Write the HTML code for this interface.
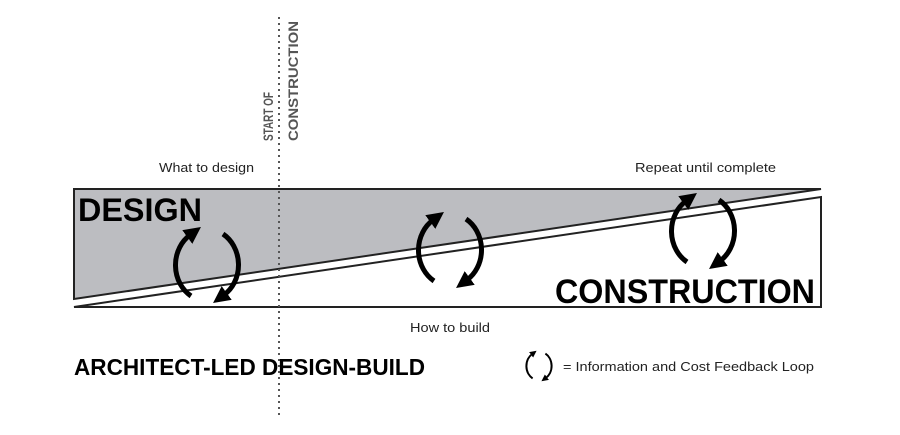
<!DOCTYPE html>
<html><head><meta charset="utf-8"><style>
html,body{margin:0;padding:0;background:#fff;}
svg{display:block;}
text{font-family:"Liberation Sans",sans-serif;}
</style></head><body>
<svg width="900" height="435" viewBox="0 0 900 435" xmlns="http://www.w3.org/2000/svg">
<defs>
<marker id="ah" viewBox="0 0 10 10" refX="2" refY="5" markerWidth="3.4" markerHeight="3.4" orient="auto" markerUnits="strokeWidth">
<path d="M0,0 L10,5 L0,10 z" fill="#000"/>
</marker>
<g id="loop">
<path d="M -16 31 A 32 36 0 0 1 -17 -30" fill="none" stroke="#000" stroke-width="5" marker-end="url(#ah)"/>
<path d="M 16 -31 A 32 36 0 0 1 17 30" fill="none" stroke="#000" stroke-width="5" marker-end="url(#ah)"/>
</g>
</defs>
<polygon points="74,189 821,189 74,299" fill="#bcbdc1" stroke="#222" stroke-width="2"/>
<polygon points="74,307 821,197 821,307" fill="#fff" stroke="#222" stroke-width="2"/>
<line x1="279" y1="17" x2="279" y2="416" stroke="#555" stroke-width="2" stroke-dasharray="2,4"/>
<text transform="translate(273,141) rotate(-90)" font-size="14" font-weight="bold" fill="#555" textLength="49" lengthAdjust="spacingAndGlyphs">START OF</text>
<text transform="translate(298,141) rotate(-90)" font-size="14" font-weight="bold" fill="#555" textLength="120" lengthAdjust="spacingAndGlyphs">CONSTRUCTION</text>
<text x="159" y="172" font-size="13" fill="#222" textLength="95" lengthAdjust="spacingAndGlyphs">What to design</text>
<text x="635" y="172" font-size="13" fill="#222" textLength="141" lengthAdjust="spacingAndGlyphs">Repeat until complete</text>
<text x="410" y="332" font-size="13" fill="#222" textLength="80" lengthAdjust="spacingAndGlyphs">How to build</text>
<text x="78" y="221" font-size="32" font-weight="bold" fill="#000" textLength="124" lengthAdjust="spacingAndGlyphs">DESIGN</text>
<text x="555" y="303" font-size="34" font-weight="bold" fill="#000" textLength="260" lengthAdjust="spacingAndGlyphs">CONSTRUCTION</text>
<text x="74" y="375" font-size="23" font-weight="bold" fill="#000" textLength="351" lengthAdjust="spacingAndGlyphs">ARCHITECT-LED DESIGN-BUILD</text>
<use href="#loop" transform="translate(207,265)"/>
<use href="#loop" transform="translate(450,250)"/>
<use href="#loop" transform="translate(703,231)"/>
<use href="#loop" transform="translate(539,366) scale(0.4)"/>
<text x="563" y="371" font-size="13" fill="#222" textLength="251" lengthAdjust="spacingAndGlyphs">= Information and Cost Feedback Loop</text>
</svg>
</body></html>
